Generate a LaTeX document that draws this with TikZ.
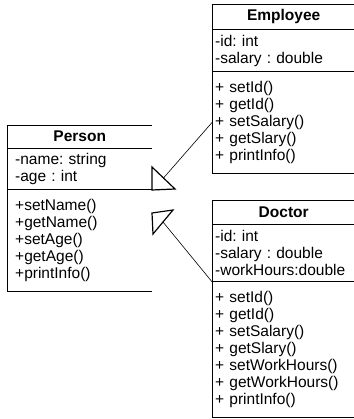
\documentclass[tikz,border=0pt]{standalone}
\usepackage{fontspec}
\setmainfont{Liberation Sans}
\usetikzlibrary{positioning}
\frenchspacing
\newcommand{\umlfont}{\fontsize{15.5}{17}\selectfont}
\tikzset{
    classtitle/.style ={
        anchor=north west,
        font=\umlfont\bfseries,
        inner sep=0pt,
        minimum width=143pt
    },
    members/.style ={
        anchor=north west,
        font=\umlfont,
        align=left,
        inner ysep=0pt,
        inner xsep=3pt,
        text width=137pt,
        minimum width=143pt
    },
    wide/.style ={
        inner xsep=8pt,
        text width=129pt,
        minimum width=145pt
    },
    boxline/.style ={
        line width=0.8pt
    },
    inherit/.style ={
        line width=1.2pt,
        line join=miter
    },
    connector/.style ={
        line width=0.6pt
    }
}

\begin{document}
\begin{tikzpicture}[x=1pt,y=-1pt]
    \useasboundingbox (0,0) rectangle (353,419);
    % Person
    \node[classtitle,minimum width=145pt,minimum height=23pt] (person) at(7,125) {Person};
    \node[members,wide,minimum height=41pt] (personattr) at(person.south west) {-name: string\\-age : int};
    \node[members,wide,minimum height=101pt] (personops) at(personattr.south west) {+setName()\\+getName()\\+setAge()\\+getAge()\\+printInfo()\\[-6pt]};
    % Employee
    \node[classtitle,minimum height=25pt] (employee) at(212,4) {Employee};
    \node[members,minimum height=42pt] (employeeattr) at(employee.south west) {-id: int\\-salary : double};
    \node[members,minimum height=101pt] (employeeops) at(employeeattr.south west) {+ setId()\\+ getId()\\+ setSalary()\\+ getSlary()\\+ printInfo()};
    % Doctor
    \node[classtitle,minimum height=24pt] (doctor) at(212,200) {Doctor};
    \node[members,minimum height=57pt] (doctorattr) at(doctor.south west) {-id: int\\-salary : double\\-workHours:double};
    \node[members,minimum height=135pt] (doctorops) at(doctorattr.south west) {+ setId()\\+ getId()\\+ setSalary()\\+ getSlary()\\+ setWorkHours()\\+ getWorkHours()\\+ printInfo()};
    % outlines, right side open
    \draw[boxline] (person.north east) -- (person.north west) |- (personops.south east);
    \draw[boxline] (personattr.north west) -- (personattr.north east) (personops.north west) -- (personops.north east);
    \draw[boxline] (employee.north east) -- (employee.north west) |- (employeeops.south east);
    \draw[boxline] (employeeattr.north west) -- (employeeattr.north east) (employeeops.north west) -- (employeeops.north east);
    \draw[boxline] (doctor.north east) -- (doctor.north west) |- (doctorops.south east);
    \draw[boxline] (doctorattr.north west) -- (doctorattr.north east) (doctorops.north west) -- (doctorops.north east);
    % generalisation heads
    \coordinate (toptip) at(152,190);
    \coordinate (topbase) at(163.5,178);
    \coordinate (lowtip) at(152,213);
    \coordinate (lowbase) at(163,222);
    \draw[inherit] (toptip) -- (152,167) -- (175,189) -- cycle;
    \draw[inherit] (lowtip) -- (153,234) -- (173,210) -- cycle;
    \draw[connector] (employeeops.west) -- (topbase);
    \draw[connector] (doctorops.north west) -- (lowbase);
\end{tikzpicture}
\end{document}
